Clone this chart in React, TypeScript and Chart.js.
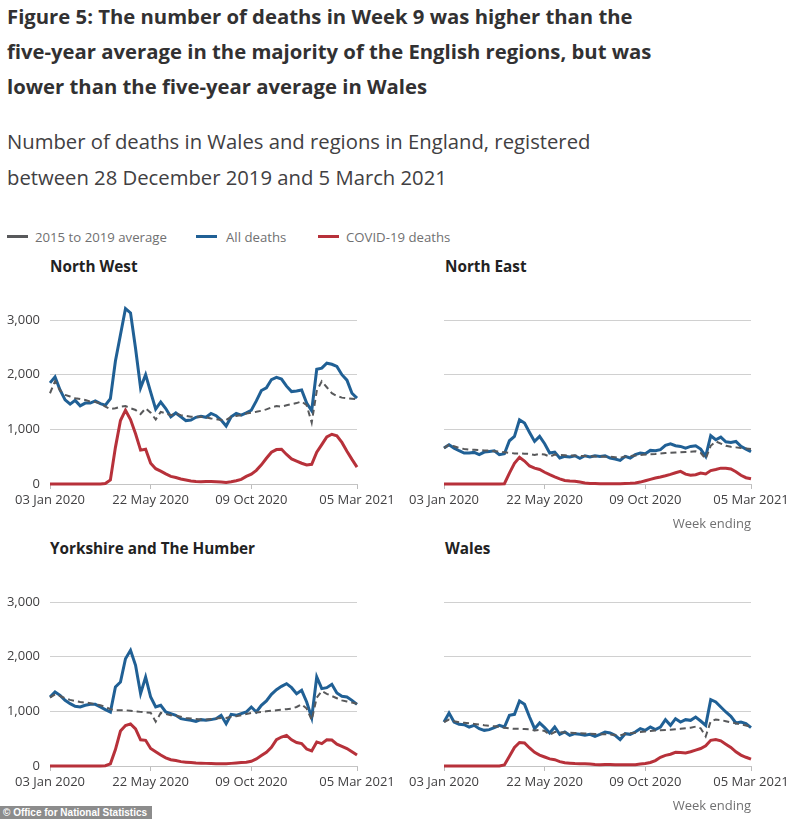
import { useEffect, useRef } from 'react';
import { Chart, registerables } from 'chart.js';

Chart.register(...registerables);

const weeks = [
  '03 Jan 2020', '10 Jan 2020', '17 Jan 2020', '24 Jan 2020', '31 Jan 2020',
  '07 Feb 2020', '14 Feb 2020', '21 Feb 2020', '28 Feb 2020',
  '06 Mar 2020', '13 Mar 2020', '20 Mar 2020', '27 Mar 2020',
  '03 Apr 2020', '10 Apr 2020', '17 Apr 2020', '24 Apr 2020',
  '01 May 2020', '08 May 2020', '15 May 2020', '22 May 2020', '29 May 2020',
  '05 Jun 2020', '12 Jun 2020', '19 Jun 2020', '26 Jun 2020',
  '03 Jul 2020', '10 Jul 2020', '17 Jul 2020', '24 Jul 2020', '31 Jul 2020',
  '07 Aug 2020', '14 Aug 2020', '21 Aug 2020', '28 Aug 2020',
  '04 Sep 2020', '11 Sep 2020', '18 Sep 2020', '25 Sep 2020',
  '02 Oct 2020', '09 Oct 2020', '16 Oct 2020', '23 Oct 2020', '30 Oct 2020',
  '06 Nov 2020', '13 Nov 2020', '20 Nov 2020', '27 Nov 2020',
  '04 Dec 2020', '11 Dec 2020', '18 Dec 2020', '25 Dec 2020',
  '01 Jan 2021', '08 Jan 2021', '15 Jan 2021', '22 Jan 2021', '29 Jan 2021',
  '05 Feb 2021', '12 Feb 2021', '19 Feb 2021', '26 Feb 2021', '05 Mar 2021',
];

const tickWeeks = ['03 Jan 2020', '22 May 2020', '09 Oct 2020', '05 Mar 2021'];

const yMax = 3000;
const yStep = 1000;

// North West
const nwAverage = [
  1660, 1880, 1710, 1630, 1600, 1570, 1555, 1535, 1510, 1500, 1475, 1415, 1370, 1385, 1415, 1425,
  1385, 1355, 1280, 1385, 1305, 1180, 1320, 1290, 1260, 1290, 1260, 1245, 1230, 1230, 1230, 1220,
  1200, 1185, 1170, 1170, 1230, 1245, 1260, 1290, 1305, 1320, 1340, 1365, 1400, 1425, 1415, 1440,
  1460, 1480, 1510, 1440, 1120, 1700, 1880, 1770, 1660, 1610, 1580, 1570, 1560, 1550,
];
const nwAll = [
  1850, 1960, 1720, 1540, 1460, 1530, 1430, 1480, 1480, 1520, 1470, 1440, 1560, 2250, 2730, 3210,
  3130, 2480, 1760, 2000, 1680, 1370, 1500, 1380, 1230, 1300, 1230, 1160, 1170, 1220, 1240, 1220,
  1290, 1250, 1170, 1060, 1230, 1290, 1260, 1300, 1350, 1520, 1710, 1760, 1910, 1950, 1920, 1790,
  1690, 1700, 1720, 1480, 1340, 2100, 2120, 2210, 2190, 2150, 2000, 1900, 1660, 1570,
];
const nwCovid = [
  0, 0, 0, 0, 0, 0, 0, 0, 0, 0, 0, 10, 75, 670, 1160, 1350,
  1180, 920, 620, 635, 380, 280, 235, 185, 140, 120, 92, 73, 55, 45, 40, 45,
  45, 40, 35, 28, 40, 60, 85, 140, 180, 250, 350, 470, 580, 630, 635, 540,
  460, 420, 380, 350, 360, 580, 720, 860, 910, 880, 760, 600, 450, 310,
];

// North East
const neAverage = [
  657, 720, 690, 660, 640, 630, 625, 620, 615, 610, 600, 590, 580, 570, 560, 560,
  555, 550, 530, 550, 540, 500, 540, 530, 525, 520, 520, 515, 510, 510, 505, 505,
  500, 500, 490, 480, 505, 510, 520, 530, 540, 545, 550, 560, 565, 570, 575, 580,
  585, 590, 600, 570, 460, 700, 780, 740, 700, 680, 670, 660, 650, 640,
];
const neAll = [
  657, 718, 657, 609, 566, 566, 578, 536, 584, 596, 609, 536, 554, 791, 870, 1175,
  1114, 943, 779, 870, 736, 566, 584, 475, 505, 493, 517, 469, 517, 493, 517, 505,
  517, 475, 456, 432, 505, 475, 536, 566, 554, 615, 609, 627, 706, 736, 700, 688,
  657, 688, 700, 639, 505, 883, 809, 858, 773, 761, 779, 688, 639, 590,
];
const neCovid = [
  0, 0, 0, 0, 0, 0, 0, 0, 0, 0, 0, 0, 5, 200, 380, 490,
  420, 330, 290, 265, 215, 170, 130, 95, 65, 55, 50, 35, 20, 10, 8, 6,
  5, 5, 5, 6, 8, 12, 20, 35, 60, 85, 110, 128, 150, 175, 205, 230,
  180, 160, 170, 200, 185, 245, 265, 290, 290, 275, 225, 160, 115, 95,
];

// Yorkshire and The Humber
const yhAverage = [
  1250, 1310, 1280, 1240, 1210, 1190, 1170, 1160, 1150, 1130, 1110, 1080, 1040, 1020, 1020, 1020,
  1010, 1000, 990, 980, 975, 810, 970, 950, 930, 920, 900, 880, 870, 860, 850, 850,
  860, 870, 880, 880, 900, 910, 930, 950, 970, 980, 990, 1000, 1010, 1020, 1030, 1040,
  1050, 1080, 1130, 1050, 840, 1250, 1370, 1320, 1280, 1240, 1200, 1180, 1160, 1140,
];
const yhAll = [
  1262, 1354, 1293, 1201, 1140, 1091, 1079, 1110, 1128, 1128, 1079, 1030, 988, 1445, 1537, 1963,
  2116, 1841, 1323, 1628, 1262, 1079, 1110, 988, 957, 927, 866, 848, 835, 817, 848, 835,
  848, 866, 927, 774, 945, 927, 957, 988, 1079, 988, 1110, 1189, 1311, 1396, 1457, 1506,
  1433, 1323, 1384, 1171, 884, 1628, 1415, 1433, 1494, 1335, 1274, 1262, 1201, 1128,
];
const yhCovid = [
  0, 0, 0, 0, 0, 0, 0, 0, 0, 0, 0, 5, 40, 300, 640, 740,
  770, 680, 480, 470, 320, 260, 200, 150, 115, 100, 80, 70, 62, 55, 52, 48,
  45, 43, 43, 43, 48, 55, 62, 70, 85, 130, 190, 250, 340, 480, 530, 560,
  480, 430, 410, 310, 275, 440, 410, 480, 475, 400, 360, 320, 260, 200,
];

// Wales
const waAverage = [
  805, 850, 820, 800, 790, 780, 770, 760, 745, 735, 725, 715, 700, 690, 680, 680,
  675, 670, 650, 660, 640, 570, 620, 620, 615, 610, 605, 600, 595, 590, 585, 580,
  580, 575, 565, 560, 590, 600, 610, 620, 630, 640, 650, 655, 660, 665, 670, 680,
  690, 700, 720, 690, 540, 820, 850, 840, 820, 800, 780, 760, 740, 720,
];
const waAll = [
  805, 970, 805, 762, 756, 713, 744, 683, 652, 665, 701, 744, 713, 927, 945, 1189,
  1128, 896, 683, 787, 701, 604, 713, 579, 622, 561, 591, 579, 561, 579, 543, 579,
  622, 604, 561, 482, 591, 579, 622, 683, 652, 713, 665, 713, 848, 744, 866, 805,
  848, 835, 896, 823, 744, 1213, 1171, 1079, 988, 909, 787, 805, 774, 701,
];
const waCovid = [
  0, 0, 0, 0, 0, 0, 0, 0, 0, 0, 0, 0, 20, 180, 340, 430,
  420, 330, 250, 200, 165, 130, 115, 80, 60, 52, 45, 42, 40, 35, 28, 25,
  28, 26, 24, 22, 22, 22, 25, 35, 45, 65, 100, 160, 195, 215, 250, 245,
  240, 260, 290, 320, 370, 470, 485, 460, 400, 340, 260, 200, 160, 125,
];

const seriesNames = ['2015 to 2019 average', 'All deaths', 'COVID-19 deaths'];
const seriesColors = ['#58595b', '#206095', '#b7313a'];

const FONT = "'Open Sans', 'Noto Sans', sans-serif";
const TEXT = '#414042';
const GRID = '#d0d0d0';

type PanelProps = {
  left: number;
  top: number;
  showY: boolean;
  average: number[];
  all: number[];
  covid: number[];
};

function Panel({ left, top, showY, average, all, covid }: PanelProps) {
  const ref = useRef<HTMLCanvasElement | null>(null);
  useEffect(() => {
    if (!ref.current) return;
    const chart = new Chart(ref.current, {
      type: 'line',
      data: {
        labels: weeks,
        datasets: [
          {
            label: seriesNames[0],
            data: average,
            borderColor: seriesColors[0],
            borderWidth: 2,
            borderDash: [6, 4],
            pointRadius: 0,
            tension: 0,
            clip: false,
          },
          {
            label: seriesNames[1],
            data: all,
            borderColor: seriesColors[1],
            borderWidth: 3,
            pointRadius: 0,
            tension: 0,
            clip: false,
          },
          {
            label: seriesNames[2],
            data: covid,
            borderColor: seriesColors[2],
            borderWidth: 3,
            pointRadius: 0,
            tension: 0,
            clip: false,
          },
        ],
      },
      options: {
        animation: false,
        responsive: false,
        maintainAspectRatio: false,
        layout: { padding: { left: 0, right: 63, top: 20, bottom: 6 } },
        plugins: { legend: { display: false }, tooltip: { enabled: false } },
        scales: {
          x: {
            type: 'category',
            offset: false,
            grid: { drawOnChartArea: false, drawTicks: true, tickLength: 5, color: '#bdbdbd' },
            border: { display: true, color: '#c4c4c4' },
            ticks: {
              autoSkip: false,
              maxRotation: 0,
              minRotation: 0,
              padding: 3,
              color: TEXT,
              font: { family: FONT, size: 13 },
              callback: (_v: any, i: number) => (tickWeeks.includes(weeks[i]) ? weeks[i] : null),
            },
            afterFit: (s: any) => {
              s.height = 30;
            },
          },
          y: {
            min: 0,
            max: yMax,
            grid: { color: GRID, drawTicks: false },
            border: { display: false },
            ticks: {
              stepSize: yStep,
              display: showY,
              padding: 10,
              color: TEXT,
              font: { family: FONT, size: 13 },
            },
            afterFit: (s: any) => {
              s.width = 50;
            },
          },
        },
      },
    });
    return () => chart.destroy();
  }, []);
  return (
    <canvas
      ref={ref}
      width={420}
      height={220}
      style={{ position: 'absolute', left, top, width: 420, height: 220 }}
    />
  );
}

const abs = (left: number, top: number, extra: any = {}) => ({
  position: 'absolute' as const,
  left,
  top,
  whiteSpace: 'nowrap' as const,
  ...extra,
});

export default function App() {
  const panelTitle = { fontWeight: 700, fontSize: 15.3, color: '#222222', lineHeight: '20px' };
  const weekEnding = { fontSize: 13, color: '#707071', lineHeight: '18px', textAlign: 'right' as const };
  return (
    <div
      style={{
        position: 'absolute',
        left: 0,
        top: 0,
        width: 800,
        height: 819,
        background: '#ffffff',
        fontFamily: FONT,
        overflow: 'hidden',
      }}
    >
      <div style={abs(7, -1, { fontWeight: 700, fontSize: 20.3, lineHeight: '35px', color: '#323132' })}>
        Figure 5: The number of deaths in Week 9 was higher than the
        <br />
        five-year average in the majority of the English regions, but was
        <br />
        lower than the five-year average in Wales
      </div>
      <div style={abs(7, 123, { fontSize: 20.25, lineHeight: '36px', color: '#414042' })}>
        Number of deaths in Wales and regions in England, registered
        <br />
        between 28 December 2019 and 5 March 2021
      </div>

      {/* legend */}
      {[
        { x: 7, tx: 35 },
        { x: 196, tx: 226 },
        { x: 318, tx: 346 },
      ].map((p, i) => (
        <div key={i}>
          <div style={abs(p.x, 235, { width: 21, height: 3, background: seriesColors[i] })} />
          <div style={abs(p.tx, 228, { fontSize: 13.2, lineHeight: '18px', color: '#707071' })}>{seriesNames[i]}</div>
        </div>
      ))}

      <div style={abs(50, 256, panelTitle)}>North West</div>
      <div style={abs(445, 256, panelTitle)}>North East</div>
      <div style={abs(50, 538, panelTitle)}>Yorkshire and The Humber</div>
      <div style={abs(445, 538, panelTitle)}>Wales</div>

      <Panel left={0} top={300} showY={true} average={nwAverage} all={nwAll} covid={nwCovid} />
      <Panel left={394} top={300} showY={false} average={neAverage} all={neAll} covid={neCovid} />
      <Panel left={0} top={582} showY={true} average={yhAverage} all={yhAll} covid={yhCovid} />
      <Panel left={394} top={582} showY={false} average={waAverage} all={waAll} covid={waCovid} />

      <div style={abs(651, 514, { ...weekEnding, width: 100 })}>Week ending</div>
      <div style={abs(651, 796, { ...weekEnding, width: 100 })}>Week ending</div>

      <div
        style={abs(0, 806, {
          width: 152,
          height: 13,
          background: '#8c8c8c',
          color: '#ffffff',
          fontFamily: "'Liberation Sans', Arial, sans-serif",
          fontWeight: 700,
          fontSize: 10,
          lineHeight: '13px',
          paddingLeft: 3,
          boxSizing: 'border-box',
        })}
      >
        © Office for National Statistics
      </div>
    </div>
  );
}
